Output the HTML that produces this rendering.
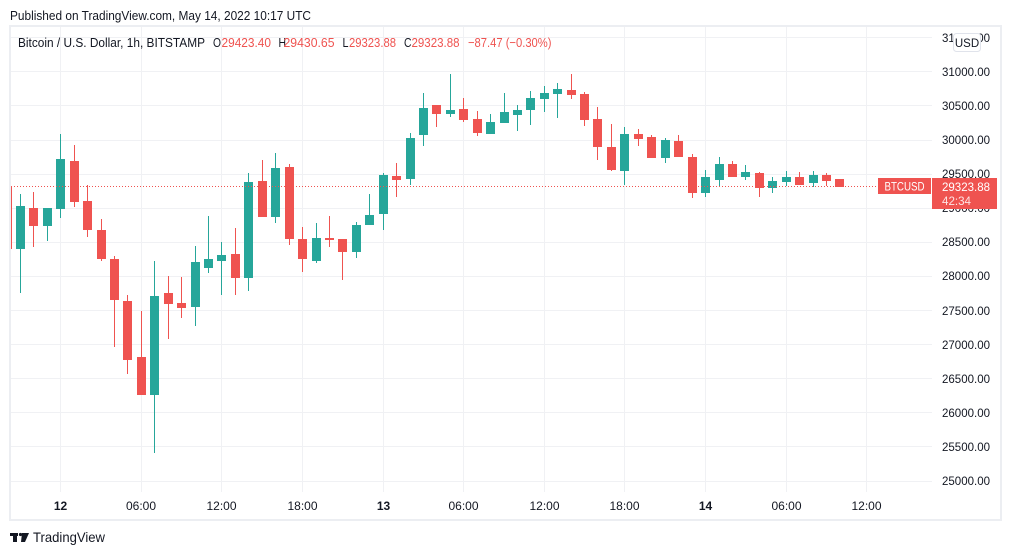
<!DOCTYPE html>
<html><head><meta charset="utf-8"><style>
html,body{margin:0;padding:0;background:#fff;}
svg{display:block;font-family:"Liberation Sans",sans-serif;}
</style></head><body>
<svg width="1012" height="555" viewBox="0 0 1012 555" xmlns="http://www.w3.org/2000/svg">
<defs><clipPath id="pane"><rect x="11" y="27" width="921" height="465"/></clipPath></defs>
<rect width="1012" height="555" fill="#fff"/>
<text x="10" y="20" font-size="13" fill="#131722" textLength="301" lengthAdjust="spacingAndGlyphs">Published on TradingView.com, May 14, 2022 10:17 UTC</text>
<!-- grid -->
<g stroke="#f0f1f4" stroke-width="1">
<line x1="11" x2="932" y1="37.5" y2="37.5"/><line x1="11" x2="932" y1="71.5" y2="71.5"/><line x1="11" x2="932" y1="105.5" y2="105.5"/><line x1="11" x2="932" y1="140.5" y2="140.5"/><line x1="11" x2="932" y1="174.5" y2="174.5"/><line x1="11" x2="932" y1="208.5" y2="208.5"/><line x1="11" x2="932" y1="242.5" y2="242.5"/><line x1="11" x2="932" y1="276.5" y2="276.5"/><line x1="11" x2="932" y1="310.5" y2="310.5"/><line x1="11" x2="932" y1="344.5" y2="344.5"/><line x1="11" x2="932" y1="378.5" y2="378.5"/><line x1="11" x2="932" y1="412.5" y2="412.5"/><line x1="11" x2="932" y1="446.5" y2="446.5"/><line x1="11" x2="932" y1="481.5" y2="481.5"/>
<line y1="27" y2="492" x1="60.5" x2="60.5"/><line y1="27" y2="492" x1="141.5" x2="141.5"/><line y1="27" y2="492" x1="221.5" x2="221.5"/><line y1="27" y2="492" x1="302.5" x2="302.5"/><line y1="27" y2="492" x1="383.5" x2="383.5"/><line y1="27" y2="492" x1="463.5" x2="463.5"/><line y1="27" y2="492" x1="544.5" x2="544.5"/><line y1="27" y2="492" x1="624.5" x2="624.5"/><line y1="27" y2="492" x1="705.5" x2="705.5"/><line y1="27" y2="492" x1="786.5" x2="786.5"/><line y1="27" y2="492" x1="866.5" x2="866.5"/>
</g>
<!-- legend -->
<g font-size="13">
<text x="18" y="47" fill="#131722" textLength="187" lengthAdjust="spacingAndGlyphs">Bitcoin / U.S. Dollar, 1h, BITSTAMP</text>
<text x="213" y="47" fill="#131722" textLength="8" lengthAdjust="spacingAndGlyphs">O</text><text x="221.5" y="47" fill="#ef5350" textLength="49.5" lengthAdjust="spacingAndGlyphs">29423.40</text>
<text x="278.5" y="47" fill="#131722" textLength="7.5" lengthAdjust="spacingAndGlyphs">H</text><text x="283.5" y="47" fill="#ef5350" textLength="51" lengthAdjust="spacingAndGlyphs">29430.65</text>
<text x="342.5" y="47" fill="#131722" textLength="6" lengthAdjust="spacingAndGlyphs">L</text><text x="349" y="47" fill="#ef5350" textLength="47" lengthAdjust="spacingAndGlyphs">29323.88</text>
<text x="404" y="47" fill="#131722" textLength="7.5" lengthAdjust="spacingAndGlyphs">C</text><text x="411.5" y="47" fill="#ef5350" textLength="48" lengthAdjust="spacingAndGlyphs">29323.88</text>
<text x="468" y="47" fill="#ef5350" textLength="83.5" lengthAdjust="spacingAndGlyphs">−87.47 (−0.30%)</text>
</g>
<!-- candles -->
<g clip-path="url(#pane)">
<g fill="#26a69a">
<rect x="20" y="194" width="1" height="99"/><rect x="16" y="206" width="9" height="43"/>
<rect x="47" y="208" width="1" height="33"/><rect x="43" y="208" width="9" height="18"/>
<rect x="60" y="134" width="1" height="84"/><rect x="56" y="159" width="9" height="50"/>
<rect x="154" y="261" width="1" height="192"/><rect x="150" y="296" width="9" height="99"/>
<rect x="195" y="246" width="1" height="80"/><rect x="191" y="262" width="9" height="45"/>
<rect x="208" y="216" width="1" height="57"/><rect x="204" y="259" width="9" height="9"/>
<rect x="221" y="242" width="1" height="53"/><rect x="217" y="255" width="9" height="6"/>
<rect x="248" y="173" width="1" height="118"/><rect x="244" y="182" width="9" height="96"/>
<rect x="275" y="153" width="1" height="70"/><rect x="271" y="168" width="9" height="49"/>
<rect x="316" y="223" width="1" height="40"/><rect x="312" y="238" width="9" height="23"/>
<rect x="356" y="222" width="1" height="36"/><rect x="352" y="225" width="9" height="27"/>
<rect x="369" y="194" width="1" height="31"/><rect x="365" y="215" width="9" height="10"/>
<rect x="383" y="173" width="1" height="57"/><rect x="379" y="175" width="9" height="39"/>
<rect x="410" y="133" width="1" height="52"/><rect x="406" y="138" width="9" height="41"/>
<rect x="423" y="93" width="1" height="53"/><rect x="419" y="108" width="9" height="27"/>
<rect x="450" y="74" width="1" height="43"/><rect x="446" y="110" width="9" height="4"/>
<rect x="490" y="114" width="1" height="20"/><rect x="486" y="122" width="9" height="12"/>
<rect x="504" y="93" width="1" height="30"/><rect x="500" y="112" width="9" height="11"/>
<rect x="517" y="105" width="1" height="26"/><rect x="513" y="110" width="9" height="5"/>
<rect x="530" y="91" width="1" height="34"/><rect x="526" y="98" width="9" height="12"/>
<rect x="544" y="86" width="1" height="26"/><rect x="540" y="93" width="9" height="6"/>
<rect x="557" y="83" width="1" height="35"/><rect x="553" y="89" width="9" height="5"/>
<rect x="624" y="127" width="1" height="58"/><rect x="620" y="134" width="9" height="37"/>
<rect x="665" y="138" width="1" height="25"/><rect x="661" y="140" width="9" height="18"/>
<rect x="705" y="170" width="1" height="27"/><rect x="701" y="177" width="9" height="16"/>
<rect x="719" y="157" width="1" height="30"/><rect x="715" y="164" width="9" height="16"/>
<rect x="745" y="165" width="1" height="15"/><rect x="741" y="172" width="9" height="5"/>
<rect x="772" y="177" width="1" height="16"/><rect x="768" y="181" width="9" height="7"/>
<rect x="786" y="171" width="1" height="15"/><rect x="782" y="177" width="9" height="5"/>
<rect x="813" y="171" width="1" height="16"/><rect x="809" y="175" width="9" height="8"/>
</g>
<g fill="#ef5350">
<rect x="3" y="186" width="9" height="63"/>
<rect x="33" y="192" width="1" height="55"/><rect x="29" y="208" width="9" height="18"/>
<rect x="74" y="145" width="1" height="62"/><rect x="70" y="161" width="9" height="41"/>
<rect x="87" y="185" width="1" height="52"/><rect x="83" y="201" width="9" height="29"/>
<rect x="101" y="219" width="1" height="42"/><rect x="97" y="230" width="9" height="29"/>
<rect x="114" y="256" width="1" height="91"/><rect x="110" y="259" width="9" height="41"/>
<rect x="127" y="295" width="1" height="79"/><rect x="123" y="301" width="9" height="59"/>
<rect x="141" y="311" width="1" height="84"/><rect x="137" y="357" width="9" height="38"/>
<rect x="168" y="276" width="1" height="63"/><rect x="164" y="293" width="9" height="11"/>
<rect x="181" y="277" width="1" height="41"/><rect x="177" y="303" width="9" height="5"/>
<rect x="235" y="228" width="1" height="67"/><rect x="231" y="254" width="9" height="24"/>
<rect x="262" y="160" width="1" height="57"/><rect x="258" y="181" width="9" height="36"/>
<rect x="289" y="164" width="1" height="81"/><rect x="285" y="167" width="9" height="72"/>
<rect x="302" y="227" width="1" height="45"/><rect x="298" y="239" width="9" height="20"/>
<rect x="329" y="216" width="1" height="31"/><rect x="325" y="238" width="9" height="2"/>
<rect x="342" y="239" width="1" height="41"/><rect x="338" y="239" width="9" height="13"/>
<rect x="396" y="163" width="1" height="34"/><rect x="392" y="176" width="9" height="4"/>
<rect x="436" y="105" width="1" height="22"/><rect x="432" y="105" width="9" height="9"/>
<rect x="463" y="98" width="1" height="24"/><rect x="459" y="109" width="9" height="11"/>
<rect x="477" y="111" width="1" height="25"/><rect x="473" y="119" width="9" height="14"/>
<rect x="571" y="74" width="1" height="25"/><rect x="567" y="90" width="9" height="5"/>
<rect x="584" y="92" width="1" height="34"/><rect x="580" y="94" width="9" height="26"/>
<rect x="597" y="107" width="1" height="53"/><rect x="593" y="119" width="9" height="28"/>
<rect x="611" y="124" width="1" height="47"/><rect x="607" y="147" width="9" height="23"/>
<rect x="638" y="129" width="1" height="17"/><rect x="634" y="134" width="9" height="5"/>
<rect x="651" y="135" width="1" height="23"/><rect x="647" y="137" width="9" height="21"/>
<rect x="678" y="135" width="1" height="22"/><rect x="674" y="141" width="9" height="16"/>
<rect x="692" y="154" width="1" height="44"/><rect x="688" y="157" width="9" height="36"/>
<rect x="732" y="161" width="1" height="16"/><rect x="728" y="164" width="9" height="13"/>
<rect x="759" y="172" width="1" height="25"/><rect x="755" y="173" width="9" height="15"/>
<rect x="799" y="172" width="1" height="13"/><rect x="795" y="177" width="9" height="8"/>
<rect x="826" y="173" width="1" height="13"/><rect x="822" y="175" width="9" height="6"/>
<rect x="835" y="179" width="9" height="8"/>
</g>
</g>
<!-- price line -->
<line x1="11" x2="878" y1="186.5" y2="186.5" stroke="#ef5350" stroke-width="1" stroke-dasharray="1 2"/>
<!-- price axis labels -->
<g font-size="12" fill="#131722" text-anchor="end">
<text x="990" y="42" textLength="48" lengthAdjust="spacingAndGlyphs">31500.00</text>
<text x="990" y="76" textLength="48" lengthAdjust="spacingAndGlyphs">31000.00</text>
<text x="990" y="110" textLength="48" lengthAdjust="spacingAndGlyphs">30500.00</text>
<text x="990" y="144" textLength="48" lengthAdjust="spacingAndGlyphs">30000.00</text>
<text x="990" y="178" textLength="48" lengthAdjust="spacingAndGlyphs">29500.00</text>
<text x="990" y="212" textLength="48" lengthAdjust="spacingAndGlyphs">29000.00</text>
<text x="990" y="246" textLength="48" lengthAdjust="spacingAndGlyphs">28500.00</text>
<text x="990" y="280" textLength="48" lengthAdjust="spacingAndGlyphs">28000.00</text>
<text x="990" y="315" textLength="48" lengthAdjust="spacingAndGlyphs">27500.00</text>
<text x="990" y="349" textLength="48" lengthAdjust="spacingAndGlyphs">27000.00</text>
<text x="990" y="383" textLength="48" lengthAdjust="spacingAndGlyphs">26500.00</text>
<text x="990" y="417" textLength="48" lengthAdjust="spacingAndGlyphs">26000.00</text>
<text x="990" y="451" textLength="48" lengthAdjust="spacingAndGlyphs">25500.00</text>
<text x="990" y="485" textLength="48" lengthAdjust="spacingAndGlyphs">25000.00</text>
</g>
<!-- USD button -->
<rect x="953.5" y="33.5" width="27" height="18" rx="3" fill="#fff" stroke="#e0e3eb"/>
<text x="967" y="47" font-size="11.5" fill="#131722" text-anchor="middle">USD</text>
<!-- BTCUSD labels -->
<rect x="878" y="178" width="53" height="16" fill="#ef5350"/>
<text x="904.5" y="190.5" font-size="12" fill="#fff" text-anchor="middle" textLength="40" lengthAdjust="spacingAndGlyphs">BTCUSD</text>
<rect x="932" y="178" width="65" height="31" fill="#ef5350"/>
<text x="942" y="191" font-size="12" fill="#fff" textLength="48" lengthAdjust="spacingAndGlyphs">29323.88</text>
<text x="942" y="205" font-size="12" fill="#fde3e3" textLength="29" lengthAdjust="spacingAndGlyphs">42:34</text>
<!-- time axis -->
<g font-size="12" fill="#131722" text-anchor="middle">
<text x="60.5" y="510" font-weight="bold">12</text>
<text x="141" y="510">06:00</text>
<text x="221.5" y="510">12:00</text>
<text x="302.5" y="510">18:00</text>
<text x="383.5" y="510" font-weight="bold">13</text>
<text x="463.5" y="510">06:00</text>
<text x="544.5" y="510">12:00</text>
<text x="624.5" y="510">18:00</text>
<text x="705.5" y="510" font-weight="bold">14</text>
<text x="786.5" y="510">06:00</text>
<text x="866.5" y="510">12:00</text>
</g>
<!-- frame -->
<rect x="10" y="26" width="991" height="494" fill="none" stroke="#eceef2" stroke-width="2"/>
<!-- logo -->
<g fill="#131722">
<rect x="10" y="533" width="8" height="3"/>
<rect x="13" y="533" width="4" height="9"/>
<circle cx="20.5" cy="534.5" r="1.6"/>
<polygon points="22,533 29,533 25,542 21,542"/>
</g>
<text x="33" y="542" font-size="14" fill="#131722" textLength="72" lengthAdjust="spacingAndGlyphs">TradingView</text>
</svg>
</body></html>
